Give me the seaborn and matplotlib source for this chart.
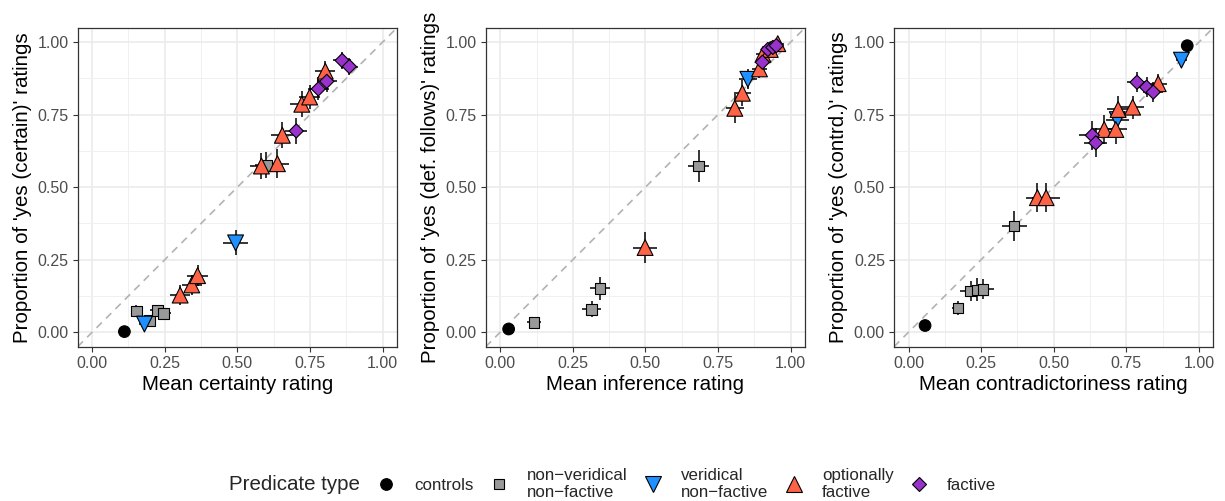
import pandas as pd
import numpy as np
import matplotlib.pyplot as plt
import seaborn as sns
from matplotlib.lines import Line2D

# predicate types
C, NV, V, OF, F = 'controls', 'non-veridical non-factive', 'veridical non-factive', 'optionally factive', 'factive'

# Panel 1: certainty
type1 = [C] + [NV] * 5 + [V] * 2 + [OF] * 9 + [F] * 5
x1 = [0.111, 0.152, 0.197, 0.225, 0.246, 0.600, 0.180, 0.494,
      0.303, 0.343, 0.363, 0.583, 0.638, 0.655, 0.722, 0.749, 0.803,
      0.703, 0.779, 0.808, 0.861, 0.886]
y1 = [0.002, 0.073, 0.040, 0.075, 0.065, 0.575, 0.028, 0.308,
      0.128, 0.163, 0.195, 0.573, 0.581, 0.679, 0.786, 0.811, 0.900,
      0.694, 0.839, 0.865, 0.937, 0.916]
x1err = [0.01, 0.02, 0.02, 0.025, 0.025, 0.04, 0.02, 0.044,
         0.035, 0.035, 0.035, 0.039, 0.04, 0.04, 0.04, 0.035, 0.035,
         0.038, 0.035, 0.035, 0.03, 0.03]
y1err = [0.005, 0.02, 0.02, 0.02, 0.02, 0.045, 0.02, 0.043,
         0.035, 0.035, 0.035, 0.045, 0.05, 0.045, 0.045, 0.04, 0.035,
         0.045, 0.04, 0.035, 0.03, 0.03]

# Panel 2: inference
type2 = [C] + [NV] * 4 + [V] + [OF] * 7 + [F] * 4
x2 = [0.029, 0.116, 0.315, 0.344, 0.683, 0.853,
      0.499, 0.808, 0.834, 0.893, 0.905, 0.930, 0.956,
      0.903, 0.922, 0.939, 0.951]
y2 = [0.011, 0.034, 0.079, 0.151, 0.573, 0.872,
      0.292, 0.772, 0.824, 0.908, 0.958, 0.975, 0.995,
      0.931, 0.975, 0.982, 0.988]
x2err = [0.005, 0.025, 0.033, 0.035, 0.037, 0.03,
         0.04, 0.03, 0.03, 0.025, 0.025, 0.02, 0.02,
         0.025, 0.02, 0.02, 0.02]
y2err = [0.005, 0.02, 0.028, 0.039, 0.054, 0.035,
         0.054, 0.05, 0.045, 0.03, 0.025, 0.02, 0.01,
         0.03, 0.02, 0.015, 0.01]

# Panel 3: contradictoriness
type3 = [C] * 2 + [NV] * 5 + [V] * 2 + [OF] * 7 + [F] * 5
x3 = [0.057, 0.960, 0.170, 0.214, 0.237, 0.256, 0.364, 0.719, 0.940,
      0.444, 0.474, 0.674, 0.714, 0.722, 0.772, 0.860,
      0.633, 0.645, 0.787, 0.820, 0.843]
y3 = [0.023, 0.988, 0.083, 0.142, 0.146, 0.148, 0.366, 0.733, 0.938,
      0.464, 0.464, 0.699, 0.699, 0.768, 0.776, 0.857,
      0.679, 0.653, 0.862, 0.845, 0.828]
x3err = [0.01, 0.01, 0.02, 0.035, 0.035, 0.04, 0.043, 0.04, 0.02,
         0.04, 0.047, 0.04, 0.04, 0.04, 0.04, 0.03,
         0.045, 0.04, 0.035, 0.035, 0.035]
y3err = [0.005, 0.005, 0.025, 0.035, 0.04, 0.035, 0.052, 0.04, 0.02,
         0.05, 0.05, 0.05, 0.05, 0.045, 0.04, 0.035,
         0.05, 0.05, 0.035, 0.035, 0.035]

palette = {C: 'black', NV: '#999999', V: '#1E90FF', OF: '#FF6347', F: '#9932CC'}
markers = {C: 'o', NV: 's', V: 'v', OF: '^', F: 'D'}
sizes = {C: 70, NV: 58, V: 130, OF: 130, F: 52}
legend_labels = ['controls', 'non\u2212veridical\nnon\u2212factive', 'veridical\nnon\u2212factive',
                 'optionally\nfactive', 'factive']

sns.set_style('white')
plt.rcParams['font.family'] = ['Liberation Sans', 'DejaVu Sans']

fig = plt.figure(figsize=(12.25, 5.01), dpi=100)
lefts = [0.0634, 0.3965, 0.7298]

panels = [
    (type1, x1, y1, x1err, y1err, 'Mean certainty rating', "Proportion of 'yes (certain)' ratings"),
    (type2, x2, y2, x2err, y2err, 'Mean inference rating', "Proportion of 'yes (def. follows)' ratings"),
    (type3, x3, y3, x3err, y3err, 'Mean contradictoriness rating', "Proportion of 'yes (contrd.)' ratings"),
]

for left, (t, x, y, xe, ye, xlab, ylab) in zip(lefts, panels):
    ax = fig.add_axes([left, 0.308, 0.2607, 0.6367])
    df = pd.DataFrame({'type': t, 'x': x, 'y': y, 'xerr': xe, 'yerr': ye})

    ticks = [0, 0.25, 0.5, 0.75, 1]
    ax.set_xticks(ticks)
    ax.set_yticks(ticks)
    ax.set_xticks([0.125, 0.375, 0.625, 0.875], minor=True)
    ax.set_yticks([0.125, 0.375, 0.625, 0.875], minor=True)
    ax.set_xticklabels(['0.00', '0.25', '0.50', '0.75', '1.00'])
    ax.set_yticklabels(['0.00', '0.25', '0.50', '0.75', '1.00'])
    ax.grid(which='major', color='#EBEBEB', lw=1.2, zorder=0)
    ax.grid(which='minor', color='#F0F0F0', lw=0.7, zorder=0)
    ax.set_axisbelow(True)

    ax.plot([-0.05, 1.05], [-0.05, 1.05], color='#B3B3B3', lw=1.2,
            dashes=(4.5, 3.5), zorder=1)
    ax.errorbar(df['x'], df['y'], xerr=df['xerr'], yerr=df['yerr'], fmt='none',
                ecolor='black', elinewidth=1.1, capsize=0, zorder=2)
    sns.scatterplot(data=df, x='x', y='y', hue='type', style='type', size='type',
                    palette=palette, markers=markers, sizes=sizes,
                    edgecolor='black', linewidth=0.8, legend=False, ax=ax, zorder=3)

    ax.set_xlim(-0.05, 1.05)
    ax.set_ylim(-0.05, 1.05)
    ax.set_xlabel(xlab, fontsize=14.8, color='black', labelpad=3)
    ax.set_ylabel(ylab, fontsize=14.8, color='black', labelpad=4)
    ax.tick_params(which='major', length=3.5, width=0.8, color='#333333',
                   labelcolor='#4D4D4D', labelsize=11.5, pad=3, bottom=True, left=True)
    ax.tick_params(which='minor', length=0)
    for s in ax.spines.values():
        s.set_color('#333333')
        s.set_linewidth(0.9)

# legend along the bottom
fig.text(229 / 1225, 1 - 484 / 501, 'Predicate type', fontsize=14.8, va='center', ha='left')
handles = [Line2D([], [], ls='none', marker=markers[k], markerfacecolor=palette[k],
                  markeredgecolor='black', markeredgewidth=0.8,
                  markersize=np.sqrt(sizes[k]) * 1.0)
           for k in [C, NV, V, OF, F]]
fig.legend(handles, legend_labels, loc='center left', bbox_to_anchor=(378 / 1225, 1 - 484 / 501),
           ncol=5, frameon=False, fontsize=12.2, handlelength=1.0, handletextpad=1.15,
           columnspacing=1.0, borderpad=0, borderaxespad=0, labelspacing=0.2)

fig.savefig('out.png', dpi=100)
